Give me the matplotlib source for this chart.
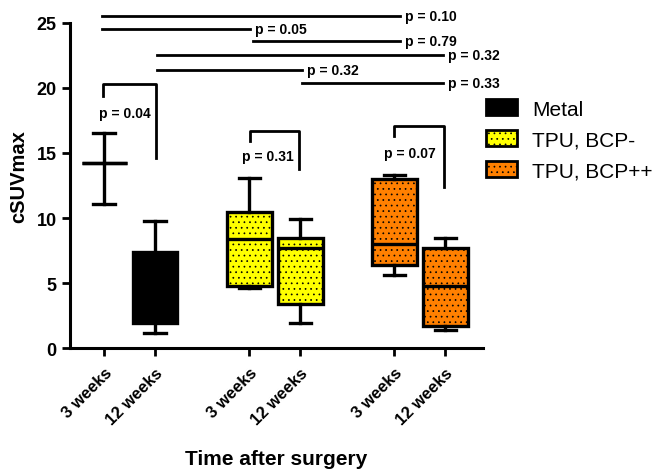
import numpy as np
import matplotlib
matplotlib.use("Agg")
import matplotlib.pyplot as plt
from matplotlib.patches import Patch

plt.rcParams['font.family'] = ['Liberation Sans', 'DejaVu Sans']
plt.rcParams['hatch.linewidth'] = 0.5

# data -------------------------------------------------------------------
groups = ["Metal", "TPU, BCP-", "TPU, BCP++"]
tick_labels = ["3 weeks", "12 weeks", "3 weeks", "12 weeks", "3 weeks", "12 weeks"]
colors = ["black", "black", "#ffff00", "#ffff00", "#ff8000", "#ff8000"]
whislo = [11.1, 1.2, 4.6, 1.9, 5.6, 1.4]
q1 = [14.2, 1.9, 4.8, 3.4, 6.4, 1.7]
med = [14.2, 5.0, 8.4, 7.7, 8.0, 4.8]
q3 = [14.2, 7.4, 10.5, 8.5, 13.0, 7.7]
whishi = [16.5, 9.8, 13.1, 9.9, 13.3, 8.5]
positions = [1, 2, 3.85, 4.85, 6.7, 7.7]

# long comparison lines: (x start, x end, y, label)
long_lines = [
    (0.96, 6.8, 25.5, "p = 0.10"),
    (0.96, 3.86, 24.5, "p = 0.05"),
    (3.92, 6.8, 23.6, "p = 0.79"),
    (2.04, 7.65, 22.5, "p = 0.32"),
    (2.04, 4.88, 21.4, "p = 0.32"),
    (4.88, 7.65, 20.4, "p = 0.33"),
]
# within-group brackets: (x1, x2, top, left end, right end, text x, text y, label)
brackets = [
    (0.98, 2.02, 20.3, 19.4, 14.6, 1.41, 18.1, "p = 0.04"),
    (3.86, 4.82, 16.7, 15.9, 13.8, 4.22, 14.8, "p = 0.31"),
    (6.7, 7.67, 17.1, 16.3, 12.4, 7.0, 15.0, "p = 0.07"),
]

fig = plt.figure(figsize=(6.57, 4.77), dpi=100)
ax = fig.add_axes([0.1065, 0.268, 0.628, 0.682])

stats = []
for i in range(len(positions)):
    stats.append(dict(whislo=whislo[i], q1=q1[i], med=med[i], q3=q3[i], whishi=whishi[i], fliers=[]))

bp = ax.bxp(stats, positions=positions, widths=0.88, patch_artist=True, showfliers=False,
            boxprops=dict(linewidth=2.4, edgecolor='black'),
            medianprops=dict(color='black', linewidth=2.4),
            whiskerprops=dict(color='black', linewidth=2.4),
            capprops=dict(color='black', linewidth=2.4),
            capwidths=0.42)
for i, box in enumerate(bp['boxes']):
    box.set_facecolor(colors[i])
    if colors[i] != "black":
        box.set_hatch('...')

ax.set_xlim(0.33, 8.43)
ax.set_ylim(0, 25)
ax.set_yticks([0, 5, 10, 15, 20, 25])
ax.set_xticks(positions)
ax.set_xticklabels(tick_labels, rotation=45, ha='right', rotation_mode='anchor',
                   fontsize=12, fontweight='bold')
for lab in ax.get_yticklabels():
    lab.set_fontweight('bold')
    lab.set_fontsize(13)
ax.tick_params(width=2, length=6)
ax.tick_params(axis='x', pad=6)
for s in ['top', 'right']:
    ax.spines[s].set_visible(False)
for s in ['left', 'bottom']:
    ax.spines[s].set_linewidth(2.2)

ax.set_ylabel("cSUVmax", fontsize=14.5, fontweight='bold')
ax.yaxis.set_label_coords(-0.1, 0.53)
ax.set_xlabel("Time after surgery", fontsize=15, fontweight='bold')
ax.xaxis.set_label_coords(0.5, -0.31)

for x1, x2, y, lab in long_lines:
    ax.plot([x1, x2], [y, y], color='black', linewidth=2, clip_on=False)
    ax.text(x2 + 0.1, y, lab, ha='left', va='center', fontsize=10, fontweight='bold')

for x1, x2, top, yl, yr, tx, ty, lab in brackets:
    ax.plot([x1, x1, x2, x2], [yl, top, top, yr], color='black', linewidth=2, clip_on=False)
    ax.text(tx, ty, lab, ha='center', va='center', fontsize=10, fontweight='bold')

handles = [Patch(facecolor='black', edgecolor='black', linewidth=2),
           Patch(facecolor='#ffff00', edgecolor='black', hatch='...', linewidth=2),
           Patch(facecolor='#ff8000', edgecolor='black', hatch='...', linewidth=2)]
fig.legend(handles, groups, loc='upper left', bbox_to_anchor=(0.7397, 0.79), frameon=False,
           borderpad=0, borderaxespad=0, fontsize=15, handlelength=1.5, handleheight=0.82,
           labelspacing=0.55, handletextpad=0.72)

fig.savefig("out.png", dpi=100)
